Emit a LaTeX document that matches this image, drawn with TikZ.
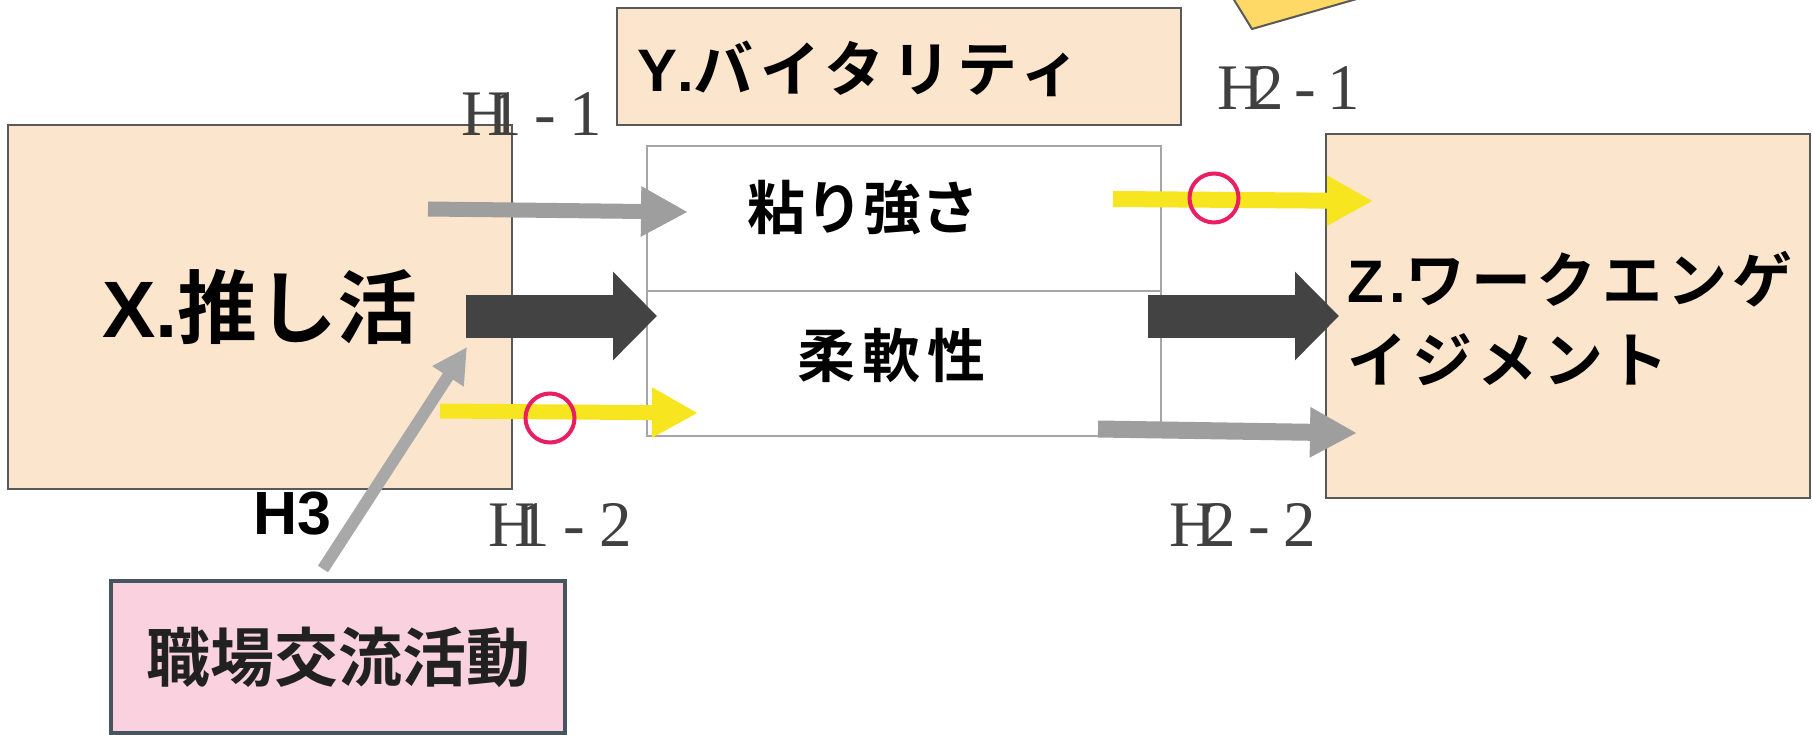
\documentclass[tikz,border=0pt]{standalone}
\usepackage{fontspec}
\usetikzlibrary{arrows.meta}
\newfontfamily\jpb{Noto Sans CJK JP Bold}
\newfontfamily\latb{Liberation Sans Bold}
\newfontfamily\serf{Liberation Serif}
\definecolor{peach}{HTML}{FCE5CD}
\definecolor{boxline}{HTML}{595959}
\definecolor{midline}{HTML}{A6A6A6}
\definecolor{arrgray}{HTML}{9E9E9E}
\definecolor{arrgrayb}{HTML}{A8A8A8}
\definecolor{arrdark}{HTML}{434343}
\definecolor{arryel}{HTML}{F7E520}
\definecolor{crim}{HTML}{E91E63}
\definecolor{pinkfill}{HTML}{F9D1DF}
\definecolor{slate}{HTML}{45565F}
\definecolor{gold}{HTML}{FFD966}
\definecolor{labgray}{HTML}{404040}
\definecolor{txtdark}{HTML}{212121}
\begin{document}
\begin{tikzpicture}[x=1pt,y=-1pt,
  box/.style={draw=boxline,line width=2pt,fill=peach,inner sep=0pt,outer sep=0pt},
  grayarr/.style={draw=arrgray,line width=15pt,-{Triangle[length=47pt,width=47pt]}},
  yelarr/.style={draw=arryel,line width=15pt,-{Triangle[length=46pt,width=47pt]}},
  darkarr/.style={draw=arrdark,line width=43pt,-{Triangle[length=44pt,width=86pt]}},
  ring/.style={circle,draw=crim,line width=4pt,minimum size=49pt,inner sep=0pt},
  lab/.style={font=\serf\fontsize{65}{78}\selectfont,text=labgray,inner sep=0pt,anchor=base west},
  jtxt/.style={inner sep=0pt,text=black}]
\useasboundingbox (0,0) rectangle (1812,734);
\fill[white] (0,0) rectangle (1812,734);
% note corner at the top
\begin{scope}
\clip (0,0) rectangle (1812,734);
\fill[gold] (1228,-10) -- (1252,29) -- (1388,-10) -- cycle;
\draw[boxline,line width=2pt,line join=round] (1228,-10) -- (1252,29) -- (1388,-10);
\end{scope}
% boxes
\node[box,minimum width=504pt,minimum height=364pt] (X) at (260,307)
  {\fontsize{80}{96}\selectfont{\latb X.}\jpb 推し活};
\node[box,minimum width=564pt,minimum height=117pt] (Y) at (899,66.5) {};
\node[jtxt,anchor=base west] (Yt) at (637,91)
  {\fontsize{60}{72}\selectfont{\latb\addfontfeature{LetterSpace=11} Y.}\jpb\addfontfeature{LetterSpace=11}バイタリティ};
\node[draw=midline,line width=2pt,fill=white,minimum width=514pt,minimum height=290pt,inner sep=0pt,outer sep=0pt] (M) at (904,291) {};
\draw[midline,line width=2pt] (M.west) -- (M.east);
\node[jtxt] (m1) at (863,208) {\jpb\fontsize{58}{68}\selectfont 粘り強さ};
\node[jtxt] (m2) at (888,355) {\jpb\fontsize{58}{68}\selectfont\addfontfeature{LetterSpace=12}柔軟性\kern-0.12em};
\node[box,minimum width=484pt,minimum height=364pt] (Z) at (1568,316) {};
\node[jtxt,anchor=base west] (Zt1) at (1347,302)
  {\fontsize{60}{80}\selectfont{\latb\addfontfeature{LetterSpace=9} Z.}\jpb\addfontfeature{LetterSpace=9}ワークエンゲ};
\node[jtxt,anchor=base west] (Zt2) at (1347,382)
  {\fontsize{60}{80}\selectfont\jpb\addfontfeature{LetterSpace=9}イジメント};
\node[draw=slate,line width=4pt,fill=pinkfill,minimum width=454pt,minimum height=152pt,inner sep=0pt,outer sep=0pt,text=txtdark] (P) at (338,657)
  {\jpb\fontsize{64}{76}\selectfont 職場交流活動};
% arrow end points
\coordinate (a1s) at (428,209); \coordinate (a1e) at (688,212);
\coordinate (y1s) at (440,411); \coordinate (y1e) at (698,413);
\coordinate (d1s) at (466,316); \coordinate (d1e) at (657,316);
\coordinate (d2s) at (1148,316); \coordinate (d2e) at (1339,316);
\coordinate (y2s) at (1113,199); \coordinate (y2e) at (1373,201);
\coordinate (a2s) at (1098,429); \coordinate (a2e) at (1357,433);
\coordinate (h3s) at (323,569); \coordinate (h3e) at (467,347);
% arrows
\draw[grayarr] (a1s) -- (a1e);
\draw[yelarr] (y1s) -- (y1e);
\draw[darkarr] (d1s) -- (d1e);
\draw[darkarr] (d2s) -- (d2e);
\draw[yelarr,line width=16pt] (y2s) -- (y2e);
\draw[grayarr,line width=17pt] (a2s) -- (a2e);
\draw[draw=arrgrayb,line width=12pt,-{Triangle[length=35pt,width=35pt]}] (h3s) -- (h3e);
% rings
\node[ring] (c1) at (550,418) {};
\node[ring] (c2) at (1214,198) {};
% labels
\node[lab] (l11) at (461,135) {H\kern-0.29em 1\kern0.2em-\kern0.2em1};
\node[lab] (l12) at (488,546) {H\kern-0.28em 1\kern0.22em-\kern0.22em2};
\node[lab] (l21) at (1217,109) {H\kern-0.2em 2\kern0.17em-\kern0.17em1};
\node[lab] (l22) at (1169,546) {H\kern-0.2em 2\kern0.2em-\kern0.2em2};
\node[jtxt,anchor=base west,font=\latb\fontsize{61}{72}\selectfont] (h3) at (253,534) {H3};
\end{tikzpicture}
\end{document}
